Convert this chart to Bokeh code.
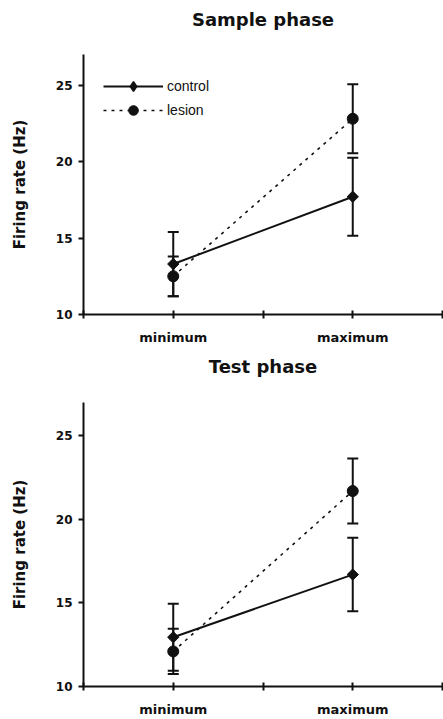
from bokeh.plotting import figure
from bokeh.layouts import column
from bokeh.models import (Range1d, FixedTicker, Whisker, TeeHead, ColumnDataSource,
                          Legend, LegendItem, Title)
from bokeh.embed import file_html
from bokeh.resources import INLINE

categories = ["minimum", "maximum"]
y_ticks = [10, 15, 20, 25]

sample_control = [13.3, 17.7]
sample_control_err = [2.1, 2.55]
sample_lesion = [12.5, 22.8]
sample_lesion_err = [1.3, 2.25]

test_control = [12.95, 16.7]
test_control_err = [2.0, 2.2]
test_lesion = [12.1, 21.7]
test_lesion_err = [1.35, 1.95]

BOLD = "DejaVu Sans"
INK = "#111111"

x_pos = [2 * i + 1 for i in range(len(categories))]
x_ticks = list(range(2 * len(categories) + 1))
overrides = {t: "" for t in x_ticks}
for xp, c in zip(x_pos, categories):
    overrides[xp] = c


def make_panel(title, control, control_err, lesion, lesion_err, height,
               border_bottom, title_standoff, gap, legend):
    p = figure(width=443, height=height, output_backend="svg", toolbar_location=None,
               x_range=Range1d(0, x_ticks[-1]), y_range=Range1d(10, 27),
               min_border_left=83, min_border_right=1,
               min_border_top=0, min_border_bottom=border_bottom)
    # spacer between frame and title, then the title itself
    p.add_layout(Title(text=" ", text_font_size="1px", standoff=gap), "above")
    p.add_layout(Title(text=title, align="center", text_font=BOLD, text_font_style="bold",
                       text_font_size="18px", text_color=INK, standoff=title_standoff),
                 "above")
    p.outline_line_color = None
    p.grid.visible = False

    # axes
    p.xaxis.ticker = FixedTicker(ticks=x_ticks)
    p.xaxis.major_label_overrides = overrides
    p.xaxis.major_tick_in = 4
    p.xaxis.major_tick_out = 4
    p.xaxis.minor_tick_line_color = None
    p.xaxis.major_label_standoff = 11
    p.yaxis.ticker = FixedTicker(ticks=y_ticks)
    p.yaxis.major_tick_in = 0
    p.yaxis.major_tick_out = 5
    p.yaxis.minor_tick_line_color = None
    p.yaxis.major_label_standoff = 6
    p.yaxis.axis_label = "Firing rate (Hz)"
    p.yaxis.axis_label_standoff = 24
    for ax in (p.xaxis, p.yaxis):
        ax.axis_line_width = 2
        ax.axis_line_color = INK
        ax.major_tick_line_width = 2
        ax.major_tick_line_color = INK
        ax.major_label_text_font = BOLD
        ax.major_label_text_font_style = "bold"
        ax.major_label_text_color = INK
        ax.axis_label_text_font = BOLD
        ax.axis_label_text_font_style = "bold"
        ax.axis_label_text_color = INK
    p.xaxis.major_label_text_font_size = "13px"
    p.yaxis.major_label_text_font_size = "12px"
    p.yaxis.axis_label_text_font_size = "15px"

    src_c = ColumnDataSource(dict(x=x_pos, y=control,
                                  up=[v + e for v, e in zip(control, control_err)],
                                  lo=[v - e for v, e in zip(control, control_err)]))
    src_l = ColumnDataSource(dict(x=x_pos, y=lesion,
                                  up=[v + e for v, e in zip(lesion, lesion_err)],
                                  lo=[v - e for v, e in zip(lesion, lesion_err)]))

    for src in (src_l, src_c):
        w = Whisker(source=src, base="x", upper="up", lower="lo",
                    line_width=2, line_color=INK,
                    upper_head=TeeHead(size=11, line_width=2, line_color=INK),
                    lower_head=TeeHead(size=11, line_width=2, line_color=INK))
        p.add_layout(w)

    l_line = p.line("x", "y", source=src_l, line_width=1.6, line_color=INK, line_dash="3 5")
    l_pts = p.scatter("x", "y", source=src_l, marker="circle", size=11,
                      fill_color=INK, line_color=INK)
    c_line = p.line("x", "y", source=src_c, line_width=2, line_color=INK)
    c_pts = p.scatter("x", "y", source=src_c, marker="square", angle=0.785398, size=8,
                      fill_color=INK, line_color=INK)

    if legend:
        # hidden key renderer so the legend shows an upright diamond
        c_key = p.scatter("x", "y", source=src_c, marker="diamond", size=12,
                          fill_color=INK, line_color=INK, line_width=1.5, visible=False)
        lg = Legend(items=[LegendItem(label="control", renderers=[c_line, c_key]),
                           LegendItem(label="lesion", renderers=[l_line, l_pts])],
                    location="top_left", margin=20, padding=0, spacing=0,
                    glyph_width=60, glyph_height=24, label_height=24,
                    label_standoff=4, border_line_color=None,
                    background_fill_alpha=0, inactive_fill_alpha=0,
                    label_text_font="Liberation Sans", label_text_font_size="14px",
                    label_text_color=INK)
        p.add_layout(lg)
    return p


p1 = make_panel("Sample phase", sample_control, sample_control_err,
                sample_lesion, sample_lesion_err, 352, 38, 13, 15, True)
p2 = make_panel("Test phase", test_control, test_control_err,
                test_lesion, test_lesion_err, 367, 33, 3, 21, False)

layout = column(p1, p2)
open("out.html", "w").write(file_html(layout, INLINE))
